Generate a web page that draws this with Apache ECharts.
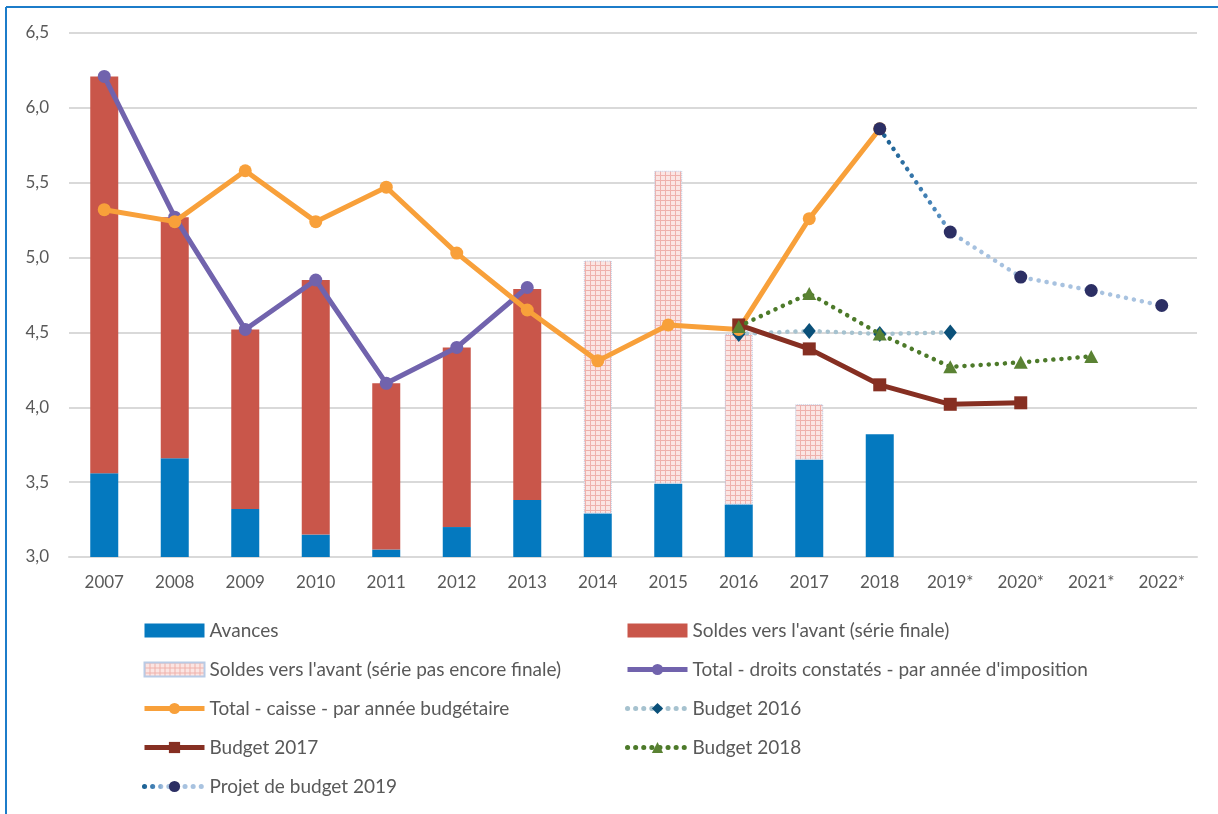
<!DOCTYPE html>
<html>
<head>
<meta charset="utf-8">
<script src="https://cdn.jsdelivr.net/npm/echarts@6/dist/echarts.min.js"></script>
<style>
  html, body { margin: 0; padding: 0; background: #ffffff; }
  #chart { width: 1218px; height: 814px; }
</style>
</head>
<body>
<div id="chart"></div>
<script>
const categories = ['2007','2008','2009','2010','2011','2012','2013','2014','2015','2016','2017','2018','2019*','2020*','2021*','2022*'];
const avances = [3.56, 3.66, 3.32, 3.15, 3.05, 3.20, 3.38, 3.29, 3.49, 3.35, 3.65, 3.82, null, null, null, null];
const soldesFinale = [2.65, 1.61, 1.20, 1.70, 1.11, 1.20, 1.41, null, null, null, null, null, null, null, null, null];
const soldesProvisoire = [null, null, null, null, null, null, null, 1.69, 2.09, 1.14, 0.37, null, null, null, null, null];
const droitsConstates = [6.21, 5.27, 4.52, 4.85, 4.16, 4.40, 4.80, null, null, null, null, null, null, null, null, null];
const caisse = [5.32, 5.24, 5.58, 5.24, 5.47, 5.03, 4.65, 4.31, 4.55, 4.52, 5.26, 5.86, null, null, null, null];
const budget2016 = [null, null, null, null, null, null, null, null, null, 4.49, 4.51, 4.49, 4.50, null, null, null];
const budget2017 = [null, null, null, null, null, null, null, null, null, 4.55, 4.39, 4.15, 4.02, 4.03, null, null];
const budget2018 = [null, null, null, null, null, null, null, null, null, 4.54, 4.76, 4.49, 4.27, 4.30, 4.34, null];
const projet2019 = [null, null, null, null, null, null, null, null, null, null, null, 5.86, 5.17, 4.87, 4.78, 4.68];

const names = {
  av: 'Avances',
  sf: "Soldes vers l'avant (série finale)",
  sp: "Soldes vers l'avant (série pas encore finale)",
  dc: "Total - droits constatés - par année d'imposition",
  ca: 'Total - caisse - par année budgétaire',
  b16: 'Budget 2016',
  b17: 'Budget 2017',
  b18: 'Budget 2018',
  p19: 'Projet de budget 2019'
};

// hatched pink pattern
const pc = document.createElement('canvas');
pc.width = 5; pc.height = 5;
const pctx = pc.getContext('2d');
pctx.fillStyle = '#fbe5e3';
pctx.fillRect(0, 0, 5, 5);
pctx.fillStyle = '#efb1ac';
pctx.fillRect(0, 0, 5, 1);
pctx.fillRect(0, 0, 1, 5);

const FONT = 'Lato';
const GREY = '#595959';
const dots = [0.1, 8];
const LW = 5;

const chart = echarts.init(document.getElementById('chart'), null, { renderer: 'canvas' });

const projGrad = new echarts.graphic.LinearGradient(0, 0, 1, 0, [
  { offset: 0, color: '#155c8e' },
  { offset: 0.2, color: '#4a86ba' },
  { offset: 0.32, color: '#a6c1df' },
  { offset: 1, color: '#a9c3e0' }
]);

const legendText = { color: GREY, fontSize: 19, fontFamily: FONT };
const legendBase = {
  orient: 'vertical', top: 621, height: 260, padding: 0,
  itemWidth: 60, itemHeight: 14, itemGap: 20,
  textStyle: legendText,
  lineStyle: { width: LW }
};

chart.setOption({
  animation: false,
  backgroundColor: '#ffffff',
  graphic: [
    { type: 'line', shape: { x1: 6, y1: 7, x2: 1218, y2: 7 }, style: { stroke: '#1c7cc9', lineWidth: 2 } },
    { type: 'line', shape: { x1: 6, y1: 7, x2: 6, y2: 814 }, style: { stroke: '#1c7cc9', lineWidth: 2 } }
  ],
  grid: { left: 69, right: 21, top: 33, bottom: 257, containLabel: false },
  legend: [
    Object.assign({}, legendBase, {
      left: 142,
      data: [{ name: names.av, icon: 'rect' }, { name: names.sp, icon: 'rect' }, names.ca, names.b17, names.p19]
    }),
    Object.assign({}, legendBase, {
      left: 625,
      data: [{ name: names.sf, icon: 'rect' }, names.dc, names.b16, names.b18]
    })
  ],
  xAxis: {
    type: 'category',
    data: categories,
    axisLine: { show: true, lineStyle: { color: '#d9d9d9', width: 2 } },
    axisTick: { show: false },
    axisLabel: { color: GREY, fontSize: 17, fontFamily: FONT, margin: 17 }
  },
  yAxis: {
    type: 'value',
    min: 3, max: 6.5, interval: 0.5,
    axisLine: { show: false },
    axisTick: { show: false },
    splitLine: { lineStyle: { color: '#d9d9d9', width: 2 } },
    axisLabel: {
      color: GREY, fontSize: 17, fontFamily: FONT, margin: 20,
      formatter: v => v.toFixed(1).replace('.', ',')
    }
  },
  series: [
    {
      name: names.av, type: 'bar', stack: 'tot', barWidth: 28, data: avances,
      itemStyle: { color: '#0479bf' }, z: 2
    },
    {
      name: names.sf, type: 'bar', stack: 'tot', barWidth: 28, data: soldesFinale,
      itemStyle: { color: '#c9564a' }, z: 2
    },
    {
      name: names.sp, type: 'bar', stack: 'tot', barWidth: 28, data: soldesProvisoire,
      itemStyle: { color: { image: pc, repeat: 'repeat' }, borderColor: '#b9cbe6', borderWidth: 1, borderType: 'dotted' }, z: 2
    },
    {
      name: names.dc, type: 'line', data: droitsConstates,
      symbol: 'circle', symbolSize: 13, showAllSymbol: true,
      lineStyle: { color: '#7163ad', width: LW },
      itemStyle: { color: '#7163ad' }, z: 5
    },
    {
      name: names.ca, type: 'line', data: caisse,
      symbol: 'circle', symbolSize: 13, showAllSymbol: true,
      lineStyle: { color: '#f8a03a', width: LW },
      itemStyle: { color: '#f8a03a' }, z: 6
    },
    {
      name: names.b16, type: 'line', data: budget2016,
      symbol: 'diamond', symbolSize: [13, 16], showAllSymbol: true,
      lineStyle: { color: '#a6c2cf', width: 4.5, type: dots, cap: 'round' },
      itemStyle: { color: '#0a5079' }, z: 4
    },
    {
      name: names.b17, type: 'line', data: budget2017,
      symbol: 'rect', symbolSize: 13, showAllSymbol: true,
      lineStyle: { color: '#862f22', width: LW },
      itemStyle: { color: '#862f22' }, z: 7
    },
    {
      name: names.b18, type: 'line', data: budget2018,
      symbol: 'triangle', symbolSize: [14, 13], showAllSymbol: true,
      lineStyle: { color: '#4d7a2a', width: 4.5, type: dots, cap: 'round' },
      itemStyle: { color: '#5a8233' }, z: 8
    },
    {
      name: names.p19, type: 'line', data: projet2019,
      symbol: 'circle', symbolSize: 13, showAllSymbol: true,
      lineStyle: { color: projGrad, width: 4.5, type: dots, cap: 'round' },
      itemStyle: { color: '#2c2f64' }, z: 9
    }
  ]
});
</script>
</body>
</html>
